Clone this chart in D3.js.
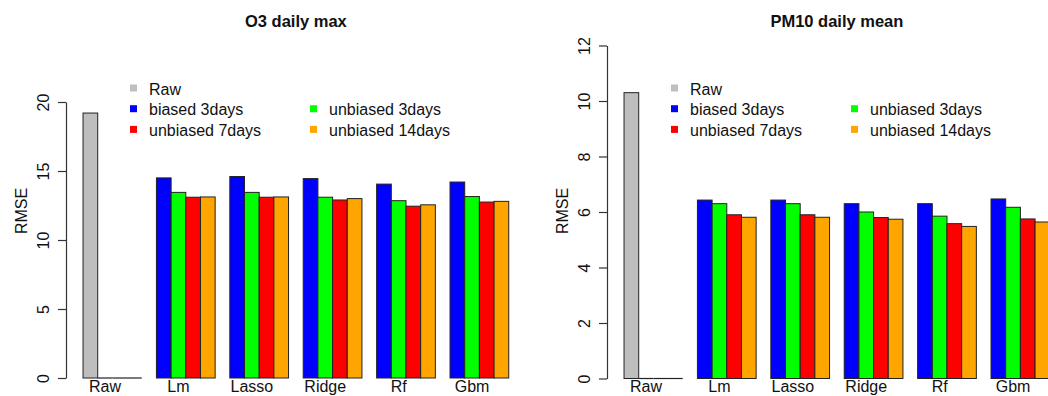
<!DOCTYPE html>
<html>
<head>
<meta charset="utf-8">
<script src="https://cdnjs.cloudflare.com/ajax/libs/d3/7.8.5/d3.min.js"></script>
<style>
  html, body { margin: 0; padding: 0; background: #fff; }
  svg { display: block; font-family: "Liberation Sans", Arial, sans-serif; }
</style>
</head>
<body>
<div id="chart"></div>
<script>
// categories and series
const groups = ["Raw", "Lm", "Lasso", "Ridge", "Rf", "Gbm"];
const models = ["Lm", "Lasso", "Ridge", "Rf", "Gbm"];
const seriesNames = ["biased 3days", "unbiased 3days", "unbiased 7days", "unbiased 14days"];
const seriesColors = ["#0000ff", "#00ff00", "#ff0000", "#ffa500"];
const rawColor = "#bebebe";

// O3 daily max (RMSE)
const o3Raw = 19.2;
const o3Biased3 = [14.5, 14.6, 14.45, 14.05, 14.2];
const o3Unbiased3 = [13.45, 13.45, 13.1, 12.85, 13.15];
const o3Unbiased7 = [13.1, 13.1, 12.9, 12.45, 12.75];
const o3Unbiased14 = [13.12, 13.12, 13.0, 12.55, 12.8];
const o3Ticks = [0, 5, 10, 15, 20];

// PM10 daily mean (RMSE)
const pm10Raw = 10.3;
const pm10Biased3 = [6.43, 6.43, 6.3, 6.3, 6.47];
const pm10Unbiased3 = [6.3, 6.3, 6.0, 5.85, 6.17];
const pm10Unbiased7 = [5.9, 5.9, 5.8, 5.58, 5.75];
const pm10Unbiased14 = [5.81, 5.81, 5.74, 5.48, 5.64];
const pm10Ticks = [0, 2, 4, 6, 8, 10, 12];

const W = 1048, H = 396;
const svg = d3.select("#chart").append("svg")
    .attr("width", W)
    .attr("height", H);

const panels = [
    { title: "O3 daily max", raw: o3Raw, series: [o3Biased3, o3Unbiased3, o3Unbiased7, o3Unbiased14],
      ticks: o3Ticks, left: 66, yTop: 102, yBottom: 378 },
    { title: "PM10 daily mean", raw: pm10Raw, series: [pm10Biased3, pm10Unbiased3, pm10Unbiased7, pm10Unbiased14],
      ticks: pm10Ticks, left: 607, yTop: 45.5, yBottom: 378.5 }
];

const barW = 14.68;

panels.forEach(function (p) {
    const g = svg.append("g");
    const right = p.left + 31.32 * barW;

    // x in bar-width units, like R barplot (space = c(0,1))
    const x = d3.scaleLinear().domain([-0.16, 31.16]).range([p.left, right]);
    const y = d3.scaleLinear()
        .domain([d3.min(p.ticks), d3.max(p.ticks)])
        .range([p.yBottom, p.yTop]);

    // build bar table: Raw group has one gray bar and three empty slots
    const bars = [];
    [p.raw, 0, 0, 0].forEach(function (v, j) {
        bars.push({ g: 0, j: j, v: v, c: rawColor });
    });
    models.forEach(function (m, i) {
        p.series.forEach(function (s, j) {
            bars.push({ g: i + 1, j: j, v: s[i], c: seriesColors[j] });
        });
    });

    g.selectAll("rect.bar")
        .data(bars.filter(d => d.v > 0))
        .enter()
        .append("rect")
        .attr("class", "bar")
        .attr("x", d => x(1 + 5 * d.g + d.j))
        .attr("y", d => y(d.v))
        .attr("width", d => x(2 + 5 * d.g + d.j) - x(1 + 5 * d.g + d.j))
        .attr("height", d => y(0) - y(d.v))
        .attr("fill", d => d.c)
        .attr("stroke", "#222")
        .attr("stroke-width", 1);

    // zero height bars collapse to a line
    g.selectAll("line.zero")
        .data(bars.filter(d => d.v === 0))
        .enter()
        .append("line")
        .attr("class", "zero")
        .attr("x1", d => x(1 + 5 * d.g + d.j))
        .attr("x2", d => x(2 + 5 * d.g + d.j))
        .attr("y1", y(0))
        .attr("y2", y(0))
        .attr("stroke", "#222")
        .attr("stroke-width", 1.2);

    // y axis
    const axis = g.append("g")
        .attr("transform", "translate(" + p.left + ",0)")
        .call(d3.axisLeft(y).tickValues(p.ticks).tickSize(8).tickSizeOuter(0));
    axis.select(".domain").attr("stroke", "#333").attr("stroke-width", 1.2);
    axis.selectAll(".tick line").attr("stroke", "#333").attr("stroke-width", 1.2);
    axis.selectAll(".tick text")
        .attr("x", null).attr("dy", null)
        .attr("transform", "translate(-17,0) rotate(-90)")
        .attr("text-anchor", "middle")
        .attr("fill", "#111")
        .attr("font-size", 16)
        .attr("font-family", "Liberation Sans, Arial, sans-serif");

    // group labels
    g.selectAll("text.xlab")
        .data(groups)
        .enter()
        .append("text")
        .attr("class", "xlab")
        .attr("x", (d, i) => x(2.5 + 5 * i))
        .attr("y", 392)
        .attr("text-anchor", "middle")
        .attr("font-size", 16)
        .attr("fill", "#111")
        .text(d => d);

    // y label
    g.append("text")
        .attr("transform", "translate(" + (p.left - 39) + ",211) rotate(-90)")
        .attr("text-anchor", "middle")
        .attr("font-size", 16)
        .attr("fill", "#111")
        .text("RMSE");

    // title
    g.append("text")
        .attr("x", (p.left + right) / 2)
        .attr("y", 27)
        .attr("text-anchor", "middle")
        .attr("font-size", 16.5)
        .attr("font-weight", "bold")
        .attr("fill", "#111")
        .text(p.title);

    // legend: Raw alone on first row, then two columns
    const lx = p.left + 64;
    const legendItems = [{ name: "Raw", c: rawColor, col: 0, row: 0 }];
    seriesNames.forEach(function (s, j) {
        legendItems.push({ name: s, c: seriesColors[j], col: j % 2, row: 1 + Math.floor(j / 2) });
    });
    const leg = g.selectAll("g.leg")
        .data(legendItems)
        .enter()
        .append("g")
        .attr("class", "leg")
        .attr("transform", d => "translate(" + (lx + d.col * 180) + "," + (94.5 + d.row * 20.7) + ")");
    leg.append("rect")
        .attr("x", 0).attr("y", -10)
        .attr("width", 7).attr("height", 7)
        .attr("fill", d => d.c);
    leg.append("text")
        .attr("x", 19)
        .attr("font-size", 16)
        .attr("fill", "#111")
        .text(d => d.name);
});
</script>
</body>
</html>
